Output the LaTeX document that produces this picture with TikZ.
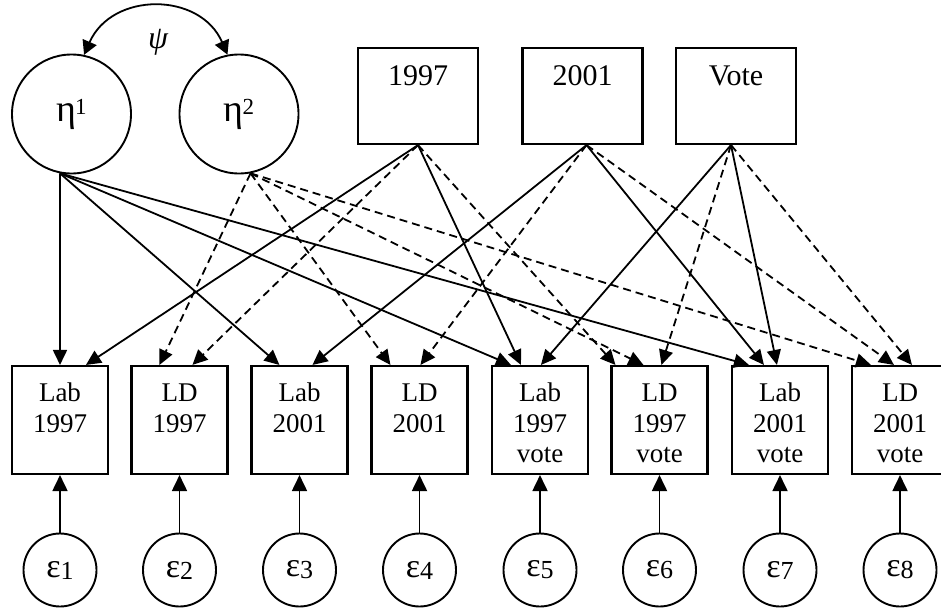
\documentclass[tikz,border=0pt]{standalone}
\usepackage{fontspec}
\setmainfont{Liberation Serif}
\usetikzlibrary{arrows.meta}
\newcommand\boxfont{\fontsize{27}{30.5}\selectfont}
\newcommand\topfont{\fontsize{30}{33}\selectfont}
\newcommand\etafont{\fontsize{38}{40}\selectfont}
\newcommand\supfont{\fontsize{23}{24}\selectfont}
\newcommand\epsfont{\fontsize{34}{36}\selectfont}
\newcommand\subfont{\fontsize{26}{27}\selectfont}
\tikzset{
  obsbox/.style={draw, line width=2.1pt, minimum width=96pt, minimum height=108pt, inner sep=0pt},
  topbox/.style={draw, line width=2.1pt, minimum width=120pt, minimum height=96pt, inner sep=0pt},
  latent/.style={draw, circle, line width=1.9pt, minimum size=119pt, inner sep=0pt},
  errc/.style={draw, circle, line width=1.9pt, minimum size=73pt, inner sep=0pt},
  boxtext/.style={anchor=north, align=center, inner sep=0pt, font=\boxfont},
  solidarr/.style={line width=1.8pt, -{Triangle[length=15pt,width=14pt]}},
  dasharr/.style={solidarr, dash pattern=on 8pt off 5pt},
  errarr/.style={line width=1.8pt, -{Triangle[length=16pt,width=15pt]}},
  covarr/.style={line width=1.8pt, {Triangle[length=14pt,width=15pt]}-{Triangle[length=14pt,width=15pt]}},
}
\begin{document}
\begin{tikzpicture}[x=1pt,y=-1pt]
\useasboundingbox (0,0) rectangle (941,610);
\clip (0,0) rectangle (941,610);
% latent variables
\node[latent] (eta1) at (71.5,114) {\etafont η\kern-1pt\raisebox{7pt}{\supfont 1}};
\node[latent] (eta2) at (239,114) {\etafont η\kern-1pt\raisebox{7pt}{\supfont 2}};
\node[font=\fontsize{32}{34}\selectfont\itshape] (psi) at (158,42) {ψ};
\draw[covarr] (eta1.78) .. controls (111.8,-8.5) and (200.2,-8.5) .. (eta2.101);
% top boxes
\node[topbox] (b97) at (418,96) {};
\node[topbox] (b01) at (582.5,96) {};
\node[topbox] (bv) at (736,96) {};
\node[anchor=base, font=\topfont, inner sep=0pt] (t97) at ([yshift=-39pt]b97.north) {1997};
\node[anchor=base, font=\topfont, inner sep=0pt] (t01) at ([yshift=-39pt]b01.north) {2001};
\node[anchor=base, font=\topfont, inner sep=0pt] (tv) at ([yshift=-39pt]bv.north) {Vote};
% observed boxes
\node[obsbox] (lab97) at (60,420) {};
\node[obsbox] (ld97) at (179.5,420) {};
\node[obsbox] (lab01) at (299.5,420) {};
\node[obsbox] (ld01) at (419.5,420) {};
\node[obsbox] (lab97v) at (540,420) {};
\node[obsbox] (ld97v) at (659.5,420) {};
\node[obsbox] (lab01v) at (780,420) {};
\node[obsbox] (ld01v) at (900,420) {};
\node[boxtext] (tx1) at ([yshift=-15pt]lab97.north) {\strut Lab\\1997};
\node[boxtext] (tx2) at ([yshift=-15pt]ld97.north) {\strut LD\\1997};
\node[boxtext] (tx3) at ([yshift=-15pt]lab01.north) {\strut Lab\\2001};
\node[boxtext] (tx4) at ([yshift=-15pt]ld01.north) {\strut LD\\2001};
\node[boxtext] (tx5) at ([yshift=-15pt]lab97v.north) {\strut Lab\\1997\\vote};
\node[boxtext] (tx6) at ([yshift=-15pt]ld97v.north) {\strut LD\\1997\\vote};
\node[boxtext] (tx7) at ([yshift=-15pt]lab01v.north) {\strut Lab\\2001\\vote};
\node[boxtext] (tx8) at ([yshift=-15pt]ld01v.north) {\strut LD\\2001\\vote};
% error terms
\foreach \b/\i in {lab97/1, ld97/2, lab01/3, ld01/4, lab97v/5, ld97v/6, lab01v/7, ld01v/8}{
  \node[errc] (eps\i) at (\b.center |- 0,570) {\epsfont ε\raisebox{-2pt}{\subfont \i}};
  \draw[errarr] (eps\i) -- (\b);
}
% source points
\coordinate (e1s) at (eta1.-101);
\coordinate (e2s) at (eta2.-79);
\coordinate (s97) at (b97.south);
\coordinate (s01) at ([xshift=4pt]b01.south);
\coordinate (sv) at ([xshift=-5pt]bv.south);
% eta1
\draw[solidarr] (e1s) -- (lab97.north);
\draw[solidarr] (e1s) -- ([xshift=29pt]lab01.north west);
\draw[solidarr] (e1s) -- ([xshift=20pt]lab97v.north west);
\draw[solidarr] (e1s) -- ([xshift=18pt]lab01v.north west);
% eta2
\draw[dasharr] (e2s) -- ([xshift=29pt]ld97.north west);
\draw[dasharr] (e2s) -- ([xshift=20pt]ld01.north west);
\draw[dasharr] (e2s) -- ([xshift=33pt]ld97v.north west);
\draw[dasharr] (e2s) -- ([xshift=20pt]ld01v.north west);
% 1997
\draw[solidarr] (s97) -- ([xshift=75pt]lab97.north west);
\draw[dasharr] (s97) -- ([xshift=62pt]ld97.north west);
\draw[solidarr] (s97) -- ([xshift=30pt]lab97v.north west);
\draw[dasharr] (s97) -- ([xshift=5pt]ld97v.north west);
% 2001
\draw[solidarr] (s01) -- ([xshift=62pt]lab01.north west);
\draw[dasharr] (s01) -- ([xshift=50pt]ld01.north west);
\draw[solidarr] (s01) -- ([xshift=33pt]lab01v.north west);
\draw[dasharr] (s01) -- ([xshift=43pt]ld01v.north west);
% Vote
\draw[solidarr] (sv) -- ([xshift=50pt]lab97v.north west);
\draw[dasharr] (sv) -- ([xshift=51pt]ld97v.north west);
\draw[solidarr] (sv) -- ([xshift=46pt]lab01v.north west);
\draw[dasharr] (sv) -- ([xshift=61pt]ld01v.north west);
\end{tikzpicture}
\end{document}
